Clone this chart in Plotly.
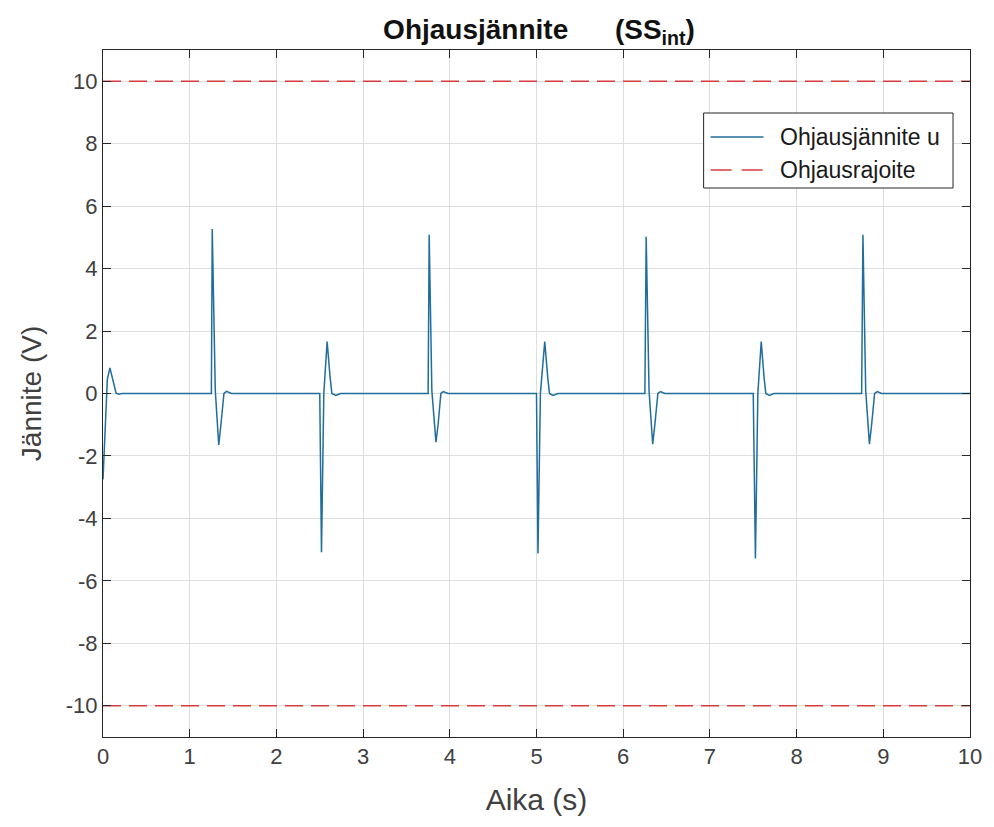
import plotly.graph_objects as go

# Control voltage u(t) samples (s, V)
time_s = [
    0.00, 0.03, 0.05, 0.08, 0.11, 0.15, 0.18, 0.22,
    1.25, 1.26, 1.295, 1.335, 1.36, 1.395, 1.425, 1.48,
    2.50, 2.52, 2.547, 2.585, 2.62, 2.64, 2.686, 2.74,
    3.75, 3.762, 3.793, 3.84, 3.865, 3.897, 3.924, 3.98,
    5.00, 5.017, 5.045, 5.095, 5.13, 5.15, 5.19, 5.25,
    6.25, 6.265, 6.298, 6.34, 6.365, 6.40, 6.43, 6.48,
    7.50, 7.525, 7.553, 7.592, 7.625, 7.645, 7.685, 7.74,
    8.75, 8.765, 8.797, 8.84, 8.865, 8.90, 8.93, 8.98,
    10.0,
]
voltage_u = [
    -2.75, -0.6, 0.45, 0.82, 0.45, 0.02, -0.02, 0.0,
    0.0, 5.27, 0.1, -1.65, -1.0, 0.0, 0.07, 0.0,
    0.0, -5.08, 0.0, 1.66, 0.5, 0.0, -0.06, 0.0,
    0.0, 5.08, 0.1, -1.56, -1.0, 0.0, 0.06, 0.0,
    0.0, -5.12, 0.0, 1.66, 0.5, 0.0, -0.06, 0.0,
    0.0, 5.02, 0.1, -1.62, -1.0, 0.0, 0.06, 0.0,
    0.0, -5.28, 0.0, 1.66, 0.5, 0.0, -0.06, 0.0,
    0.0, 5.08, 0.1, -1.62, -1.0, 0.0, 0.06, 0.0,
    0.0,
]

# Control limits (V)
limit_time = [0, 10]
upper_limit = [10, 10]
lower_limit = [-10, -10]

x_ticks = [0, 1, 2, 3, 4, 5, 6, 7, 8, 9, 10]
x_tick_labels = ["0", "1", "2", "3", "4", "5", "6", "7", "8", "9", "10"]
y_ticks = [-10, -8, -6, -4, -2, 0, 2, 4, 6, 8, 10]
y_tick_labels = ["-10", "-8", "-6", "-4", "-2", "0", "2", "4", "6", "8", "10"]

legend_labels = ["Ohjausjännite u", "Ohjausrajoite"]

AX = "#262626"
TXT = "#404040"
FONT = "Liberation Sans, Arial, sans-serif"
U_BLUE = "#1f6e9c"
LIMIT_RED = "#d63c3c"
DASH = "18px,8px"

# Figure geometry (pixels) used to place the boxed legend in paper coordinates
W, H = 994, 827
L, R, T, B = 103, 22, 50, 90
PW, PH = W - L - R, H - T - B


def px_x(px):
    return (px - L) / PW


def px_y(py):
    return (H - B - py) / PH


fig = go.Figure()
fig.add_trace(go.Scatter(
    x=time_s, y=voltage_u, mode="lines",
    name=legend_labels[0], showlegend=False,
    line=dict(color=U_BLUE, width=1.5),
))
fig.add_trace(go.Scatter(
    x=limit_time, y=upper_limit, mode="lines",
    name=legend_labels[1], showlegend=False,
    line=dict(color=LIMIT_RED, width=1.5, dash=DASH),
))
fig.add_trace(go.Scatter(
    x=limit_time, y=lower_limit, mode="lines",
    name=legend_labels[1], showlegend=False,
    line=dict(color=LIMIT_RED, width=1.5, dash=DASH),
))

# Boxed legend in the upper right corner
box = dict(x0=705, x1=955, y0=113, y1=188)
fig.add_shape(type="rect", xref="paper", yref="paper",
              x0=px_x(box["x0"]), x1=px_x(box["x1"]),
              y0=px_y(box["y1"]), y1=px_y(box["y0"]),
              line=dict(color=AX, width=1), fillcolor="white", layer="above")
row_y = [137, 170]
row_style = [
    dict(color=U_BLUE, width=1.5),
    dict(color=LIMIT_RED, width=1.5, dash="21px,10px"),
]
for label, ry, st in zip(legend_labels, row_y, row_style):
    fig.add_shape(type="line", xref="paper", yref="paper",
                  x0=px_x(712), x1=px_x(765), y0=px_y(ry), y1=px_y(ry),
                  line=st, layer="above")
    fig.add_annotation(xref="paper", yref="paper", x=px_x(780), y=px_y(ry),
                       xanchor="left", yanchor="middle", showarrow=False,
                       text=label, font=dict(family=FONT, size=23, color="#1a1a1a"))

axis_common = dict(
    showgrid=True, gridcolor="#dedede", gridwidth=1,
    zeroline=False, showline=True, linecolor=AX, linewidth=1,
    mirror="ticks", ticks="inside", ticklen=8, tickcolor=AX,
    tickfont=dict(family=FONT, size=22, color=TXT),
)

fig.update_layout(
    width=W, height=H,
    margin=dict(l=L, r=R, t=T, b=B),
    paper_bgcolor="white", plot_bgcolor="white",
    font=dict(family=FONT, color=AX),
    showlegend=False,
    title=dict(
        text="<b>Ohjausjännite&nbsp;&nbsp;&nbsp;&nbsp;&nbsp;&nbsp;(SS<sub>int</sub>)</b>",
        x=539 / W, xanchor="center", y=1 - 29 / H, yanchor="middle",
        xref="container", yref="container",
        font=dict(family=FONT, size=28, color="#111111"),
    ),
    xaxis=dict(
        range=[0, 10], tickvals=x_ticks, ticktext=x_tick_labels,
        title=dict(text="Aika (s)", font=dict(family=FONT, size=30, color=TXT), standoff=20),
        **axis_common,
    ),
    yaxis=dict(
        range=[-11, 11], tickvals=y_ticks, ticktext=y_tick_labels,
        title=dict(text="Jännite (V)", font=dict(family=FONT, size=28, color=TXT), standoff=16),
        **axis_common,
    ),
)

fig.write_html("out.html")
